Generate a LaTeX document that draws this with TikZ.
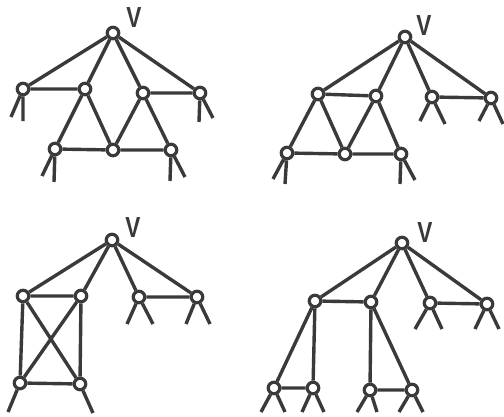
\documentclass[tikz,border=0pt]{standalone}
\usepackage{fontspec}
\setmainfont{Liberation Sans}
\definecolor{ink}{HTML}{3A3A3A}
\begin{document}
\begin{tikzpicture}[x=1pt,y=-1pt,
  vtx/.style={circle,draw=ink,fill=white,line width=3.2pt,inner sep=0pt,minimum size=11.5pt},
  edge/.style={draw=ink,line width=3.4pt},
  lbl/.style={text=ink,font=\fontsize{29}{29}\selectfont\bfseries,inner sep=0pt,xscale=0.78}]
\useasboundingbox (0,0) rectangle (504,416);
% ---------- panel 1 ----------
\node[vtx] (p1v) at (113,33) {};
\node[vtx] (p1l) at (23,89) {};
\node[vtx] (p1a) at (85,89) {};
\node[vtx] (p1b) at (143,93) {};
\node[vtx] (p1r) at (200,93) {};
\node[vtx] (p1c) at (55,149) {};
\node[vtx] (p1d) at (113,150) {};
\node[vtx] (p1e) at (171,150) {};
\node[lbl] (p1V) at (134,18) {V};
\coordinate (p1l1) at (11,117); \coordinate (p1l2) at (23,121);
\coordinate (p1r1) at (199,122); \coordinate (p1r2) at (213,118);
\coordinate (p1c1) at (42,176); \coordinate (p1c2) at (54,182);
\coordinate (p1e1) at (170,181); \coordinate (p1e2) at (185,177);
\path[edge] (p1v)--(p1l) (p1v)--(p1a) (p1v)--(p1b) (p1v)--(p1r)
  (p1l)--(p1a) (p1b)--(p1r) (p1a)--(p1c) (p1a)--(p1d) (p1b)--(p1d) (p1b)--(p1e)
  (p1c)--(p1d) (p1d)--(p1e)
  (p1l)--(p1l1) (p1l)--(p1l2) (p1r)--(p1r1) (p1r)--(p1r2)
  (p1c)--(p1c1) (p1c)--(p1c2) (p1e)--(p1e1) (p1e)--(p1e2);
% ---------- panel 2 ----------
\node[vtx] (p2v) at (405,37) {};
\node[vtx] (p2a) at (318,94) {};
\node[vtx] (p2b) at (376,96) {};
\node[vtx] (p2c) at (432,97) {};
\node[vtx] (p2d) at (491,98) {};
\node[vtx] (p2e) at (287,153) {};
\node[vtx] (p2f) at (345,154) {};
\node[vtx] (p2g) at (401,154) {};
\node[lbl] (p2V) at (424,26) {V};
\coordinate (p2e1) at (273,179); \coordinate (p2e2) at (285,184);
\coordinate (p2g1) at (400,184); \coordinate (p2g2) at (415,180);
\coordinate (p2c1) at (420,121); \coordinate (p2c2) at (445,124);
\coordinate (p2d1) at (479,121); \coordinate (p2d2) at (503,124);
\path[edge] (p2v)--(p2a) (p2v)--(p2b) (p2v)--(p2c) (p2v)--(p2d)
  (p2a)--(p2b) (p2c)--(p2d) (p2a)--(p2e) (p2a)--(p2f) (p2b)--(p2f) (p2b)--(p2g)
  (p2e)--(p2f) (p2f)--(p2g)
  (p2e)--(p2e1) (p2e)--(p2e2) (p2g)--(p2g1) (p2g)--(p2g2)
  (p2c)--(p2c1) (p2c)--(p2c2) (p2d)--(p2d1) (p2d)--(p2d2);
% ---------- panel 3 ----------
\node[vtx] (p3v) at (112,240) {};
\node[vtx] (p3a) at (23,296) {};
\node[vtx] (p3b) at (81,296) {};
\node[vtx] (p3c) at (139,297) {};
\node[vtx] (p3d) at (197,297) {};
\node[vtx] (p3e) at (20,383) {};
\node[vtx] (p3f) at (80,384) {};
\node[lbl] (p3V) at (133,228) {V};
\coordinate (p3c1) at (127,324); \coordinate (p3c2) at (153,324);
\coordinate (p3d1) at (186,324); \coordinate (p3d2) at (210,324);
\coordinate (p3e1) at (8,412); \coordinate (p3f1) at (93,413);
\path[edge] (p3v)--(p3a) (p3v)--(p3b) (p3v)--(p3c) (p3v)--(p3d)
  (p3a)--(p3b) (p3c)--(p3d) (p3a)--(p3e) (p3a)--(p3f) (p3b)--(p3e) (p3b)--(p3f)
  (p3e)--(p3f)
  (p3c)--(p3c1) (p3c)--(p3c2) (p3d)--(p3d1) (p3d)--(p3d2)
  (p3e)--(p3e1) (p3f)--(p3f1);
% ---------- panel 4 ----------
\node[vtx] (p4v) at (402,243) {};
\node[vtx] (p4a) at (315,301) {};
\node[vtx] (p4b) at (371,302) {};
\node[vtx] (p4c) at (430,303) {};
\node[vtx] (p4d) at (487,304) {};
\node[vtx] (p4e) at (274,388) {};
\node[vtx] (p4f) at (313,388) {};
\node[vtx] (p4g) at (370,390) {};
\node[vtx] (p4h) at (412,390) {};
\node[lbl] (p4V) at (425,233) {V};
\coordinate (p4c1) at (415,329); \coordinate (p4c2) at (442,329);
\coordinate (p4d1) at (475,329); \coordinate (p4d2) at (499,329);
\coordinate (p4e1) at (261,412); \coordinate (p4e2) at (285,412);
\coordinate (p4f1) at (302,412); \coordinate (p4f2) at (324,412);
\coordinate (p4g1) at (357,412); \coordinate (p4g2) at (377,412);
\coordinate (p4h1) at (399,412); \coordinate (p4h2) at (423,412);
\path[edge] (p4v)--(p4a) (p4v)--(p4b) (p4v)--(p4c) (p4v)--(p4d)
  (p4a)--(p4b) (p4c)--(p4d) (p4a)--(p4e) (p4a)--(p4f) (p4b)--(p4g) (p4b)--(p4h)
  (p4e)--(p4f) (p4g)--(p4h)
  (p4c)--(p4c1) (p4c)--(p4c2) (p4d)--(p4d1) (p4d)--(p4d2)
  (p4e)--(p4e1) (p4e)--(p4e2) (p4f)--(p4f1) (p4f)--(p4f2)
  (p4g)--(p4g1) (p4g)--(p4g2) (p4h)--(p4h1) (p4h)--(p4h2);
\end{tikzpicture}
\end{document}
